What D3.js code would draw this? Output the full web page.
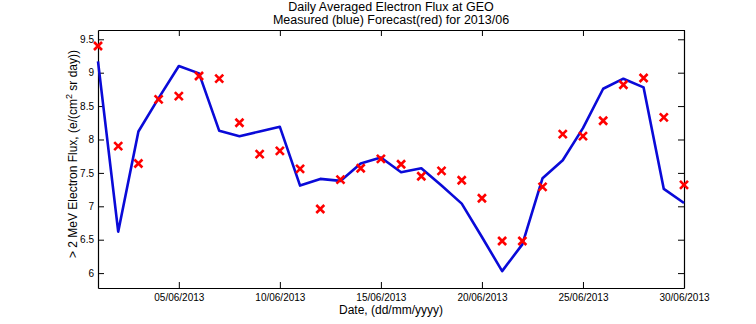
<!DOCTYPE html>
<html lang="en">
  <head>
    <meta charset="UTF-8" />
    <title>Daily Averaged Electron Flux at GEO</title>
    <script src="https://d3js.org/d3.v7.min.js"></script>
    <style>
      body { margin: 0; background: #fff; }
      text { font-family: "Liberation Sans", Arial, sans-serif; fill: #000; }
    </style>
  </head>
  <body>
    <div id="chart"></div>

    <script>
      // days of June 2013
      const days = d3.range(1, 31);

      // measured flux (blue line), log10 units
      const measured = [
        9.17, 6.62, 8.12, 8.62, 9.1, 8.99, 8.13, 8.05, 8.12, 8.19,
        7.31, 7.41, 7.38, 7.64, 7.73, 7.51, 7.57, 7.31, 7.04, 6.54,
        6.03, 6.43, 7.42, 7.69, 8.17, 8.76, 8.91, 8.78, 7.26, 7.05
      ];

      // forecast flux (red crosses)
      const forecast = [
        9.4, 7.9, 7.64, 8.6, 8.65, 8.95, 8.91, 8.25, 7.78, 7.83,
        7.56, 6.96, 7.4, 7.57, 7.71, 7.63, 7.45, 7.53, 7.39, 7.12,
        6.48, 6.48, 7.29, 8.08, 8.05, 8.28, 8.82, 8.92, 8.33, 7.32
      ];

      const yTicks = [6, 6.5, 7, 7.5, 8, 8.5, 9, 9.5];
      const xTickDays = [5, 10, 15, 20, 25, 30];

      const titleLines = [
        "Daily Averaged Electron Flux at GEO",
        "Measured (blue) Forecast(red) for 2013/06"
      ];

      const W = 756, H = 324;
      const margin = { top: 30, right: 72, bottom: 36, left: 98 };
      const width = W - margin.left - margin.right,
        height = H - margin.top - margin.bottom;

      const svg = d3
        .select("#chart")
        .append("svg")
        .attr("width", W)
        .attr("height", H);

      const g = svg
        .append("g")
        .attr("transform", `translate(${margin.left},${margin.top})`);

      const date = (d) => new Date(2013, 5, d);

      const x = d3
        .scaleTime()
        .domain([date(1), date(30)])
        .range([0, width]);

      const y = d3.scaleLinear().domain([5.777, 9.639]).range([height, 0]);

      const fmt = d3.timeFormat("%d/%m/%Y");

      // bottom axis with labels, ticks pointing inward
      const xAxis = g
        .append("g")
        .attr("transform", `translate(0,${height})`)
        .call(
          d3
            .axisBottom(x)
            .tickValues(xTickDays.map(date))
            .tickFormat(fmt)
            .tickSizeInner(-6)
            .tickSizeOuter(0)
            .tickPadding(4)
        );
      xAxis.selectAll("text").attr("y", 9).attr("dy", "0.35em").style("font-size", "10px");

      // top axis, ticks only
      g.append("g")
        .call(
          d3
            .axisTop(x)
            .tickValues(xTickDays.map(date))
            .tickFormat("")
            .tickSizeInner(-6)
            .tickSizeOuter(0)
        );

      const yAxis = g
        .append("g")
        .call(
          d3
            .axisLeft(y)
            .tickValues(yTicks)
            .tickFormat(d3.format("~g"))
            .tickSizeInner(-6)
            .tickSizeOuter(0)
        );
      yAxis.selectAll("text").attr("x", -4).style("font-size", "10px");

      g.append("g")
        .attr("transform", `translate(${width},0)`)
        .call(
          d3
            .axisRight(y)
            .tickValues(yTicks)
            .tickFormat("")
            .tickSizeInner(-6)
            .tickSizeOuter(0)
        );

      g.selectAll(".domain").attr("stroke", "#000").attr("stroke-width", 1.2);
      g.selectAll(".tick line").attr("stroke", "#000");

      // measured line
      const line = d3
        .line()
        .x((d, i) => x(date(days[i])))
        .y((d) => y(d));

      g.append("path")
        .datum(measured)
        .attr("fill", "none")
        .attr("stroke", "#0a0ad8")
        .attr("stroke-width", 2.6)
        .attr("stroke-linejoin", "round")
        .attr("d", line);

      // forecast crosses
      const s = 4;
      g.append("g")
        .selectAll("path")
        .data(forecast)
        .join("path")
        .attr("transform", (d, i) => `translate(${x(date(days[i]))},${y(d)})`)
        .attr("d", `M${-s},${-s}L${s},${s}M${-s},${s}L${s},${-s}`)
        .attr("stroke", "#f00")
        .attr("stroke-width", 2.6)
        .attr("fill", "none");

      // title
      svg
        .append("g")
        .selectAll("text")
        .data(titleLines)
        .join("text")
        .attr("x", margin.left + width / 2)
        .attr("y", (d, i) => 7 + i * 12.5)
        .attr("dy", "0.35em")
        .attr("text-anchor", "middle")
        .style("font-size", "12.5px")
        .text((d) => d);

      // x label
      svg
        .append("text")
        .attr("x", margin.left + width / 2)
        .attr("y", 310)
        .attr("dy", "0.35em")
        .attr("text-anchor", "middle")
        .style("font-size", "12px")
        .text("Date, (dd/mm/yyyy)");

      // y label
      const yl = svg
        .append("text")
        .attr("transform", "translate(77,154) rotate(-90)")
        .attr("text-anchor", "middle")
        .style("font-size", "12px");
      yl.append("tspan").text("> 2 MeV Electron Flux, (e/(cm");
      yl.append("tspan").attr("dy", -5).style("font-size", "9px").text("2");
      yl.append("tspan").attr("dy", 5).text(" sr day))");
    </script>
  </body>
</html>
